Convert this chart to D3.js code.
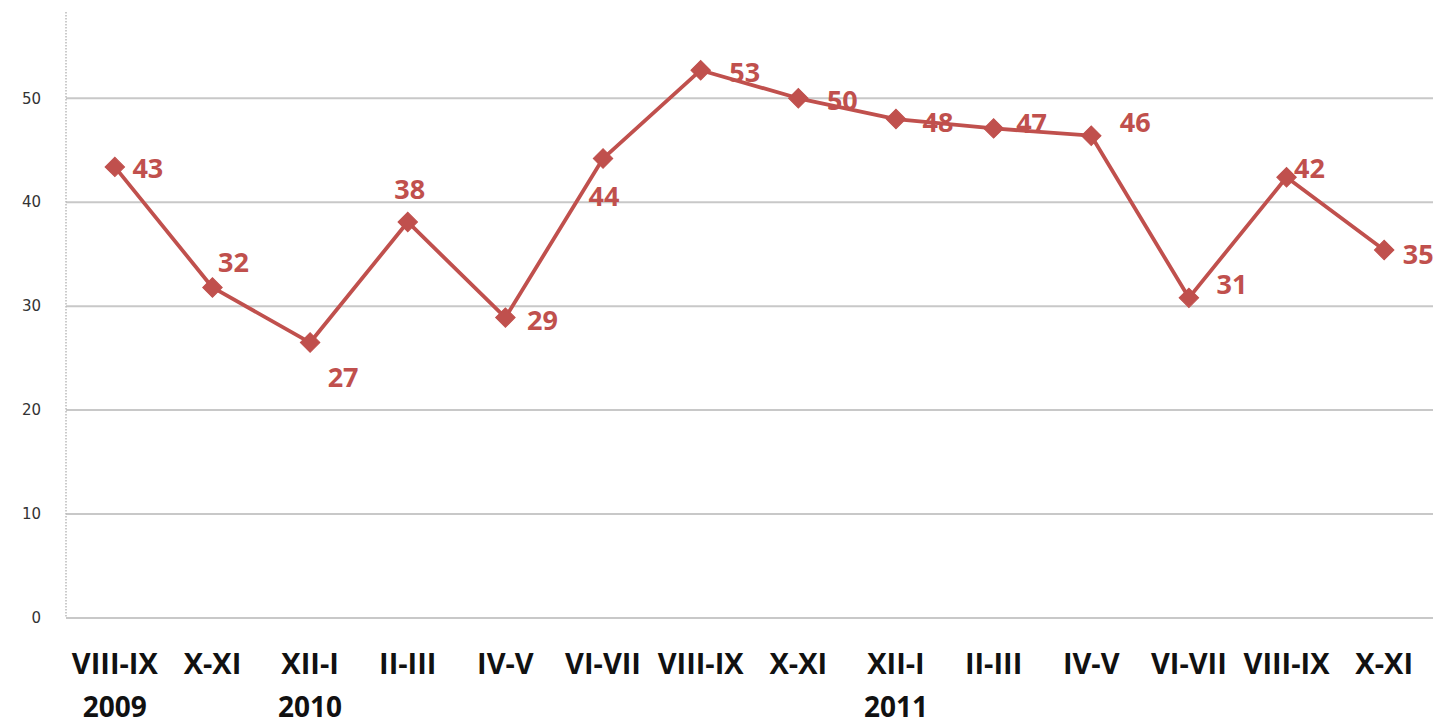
<!DOCTYPE html>
<html><head><meta charset="utf-8">
<script src="https://cdn.jsdelivr.net/npm/d3@7"></script>
<style>body{margin:0;background:#fff}</style>
</head><body>
<svg id="c" width="1450" height="725"></svg>
<script>
const categories = ["VIII-IX","X-XI","XII-I","II-III","IV-V","VI-VII","VIII-IX","X-XI","XII-I","II-III","IV-V","VI-VII","VIII-IX","X-XI"];
const years = ["2009","","2010","","","","","","2011","","","","",""];
const values = [43.4,31.8,26.5,38.1,28.9,44.2,52.7,50.0,48.0,47.1,46.4,30.8,42.4,35.4];
const labels = ["43","32","27","38","29","44","53","50","48","47","46","31","42","35"];
const yTicks = [0,10,20,30,40,50];
// label placement offsets (styling)
const labelOffsets = [[33,2],[21,-25],[33,35],[2,-32],[37,3],[1,38],[44,2],[44,2],[42,3],[38,-5],[44,-13],[43,-13],[23,-9],[34,5]];

(function(){
const svg = d3.select("#c");
const mLeft = 66, mRight = 1433, mTop = 12, mBottom = 618;
const x = d3.scaleBand().domain(d3.range(categories.length)).range([mLeft, mRight]);
const y = d3.scaleLinear().domain([0, 58.3]).range([mBottom, mTop]);
const red = "#c0504d";

svg.append("g").selectAll("line").data(yTicks).join("line")
  .attr("x1", mLeft).attr("x2", mRight)
  .attr("y1", d => y(d)).attr("y2", d => y(d))
  .attr("stroke", "#c8c8c8").attr("stroke-width", 2);

svg.append("line").attr("x1", mLeft).attr("x2", mLeft).attr("y1", mTop).attr("y2", mBottom)
  .attr("stroke", "#bbb").attr("stroke-width", 1.5).attr("stroke-dasharray", "1.5,1.5");

svg.append("g").selectAll("text").data(yTicks).join("text")
  .attr("x", 41).attr("y", d => y(d)).attr("dy", "0.35em")
  .attr("text-anchor", "end").attr("font-family", "DejaVu Sans, sans-serif")
  .attr("font-size", 15).attr("fill", "#333").text(d => d);

const cx = i => x(i) + x.bandwidth() / 2;
svg.append("g").selectAll("text").data(categories).join("text")
  .attr("x", (d, i) => cx(i)).attr("y", 674)
  .attr("text-anchor", "middle").attr("font-family", "Open Sans, sans-serif")
  .attr("font-weight", "bold").attr("font-size", 29).attr("fill", "#111").text(d => d);
svg.append("g").selectAll("text").data(years).join("text")
  .attr("x", (d, i) => cx(i)).attr("y", 717)
  .attr("text-anchor", "middle").attr("font-family", "Open Sans, sans-serif")
  .attr("font-weight", "bold").attr("font-size", 28).attr("fill", "#111").text(d => d);

const line = d3.line().x((d, i) => cx(i)).y(d => y(d));
svg.append("path").datum(values).attr("d", line)
  .attr("fill", "none").attr("stroke", red).attr("stroke-width", 3.8).attr("stroke-linejoin", "round");

svg.append("g").selectAll("path").data(values).join("path")
  .attr("transform", (d, i) => `translate(${cx(i)},${y(d)}) rotate(45)`)
  .attr("d", d3.symbol(d3.symbolSquare, 190)())
  .attr("fill", red).attr("stroke", red);

svg.append("g").selectAll("text").data(values).join("text")
  .attr("x", (d, i) => cx(i) + labelOffsets[i][0])
  .attr("y", (d, i) => y(d) + labelOffsets[i][1]).attr("dy", "0.35em")
  .attr("text-anchor", "middle").attr("font-family", "Open Sans, sans-serif")
  .attr("font-weight", "bold").attr("font-size", 27).attr("fill", red)
  .text((d, i) => labels[i]);
})();
</script>
</body></html>
